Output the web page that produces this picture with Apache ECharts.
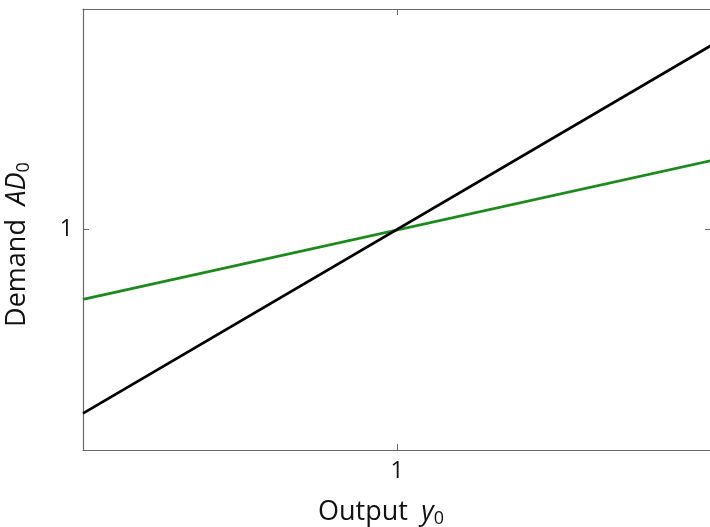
<!DOCTYPE html>
<html>
<head>
<meta charset="utf-8">
<script src="https://cdn.jsdelivr.net/npm/echarts@6/dist/echarts.min.js"></script>
<style>
  html, body { margin: 0; padding: 0; background: #fff; }
  #chart { width: 710px; height: 527px; }
</style>
</head>
<body>
<div id="chart"></div>
<script>
// Output y0 values at which each demand schedule is evaluated
const outputValues = [0, 2];
// Aggregate demand AD0 for the steep (black) and flat (green) schedules
const demandSteep = [0.166, 1.834];
const demandFlat = [0.683, 1.312];
// Tick positions shown on the axes
const xTicks = [1];
const yTicks = [1];

const font = '"Open Sans", "DejaVu Sans", sans-serif';
const axisGray = '#6a6a6a';
const textColor = '#111';

const chart = echarts.init(document.getElementById('chart'), null, { renderer: 'canvas' });

function pairs(xs, ys) {
  return xs.map((x, i) => [x, ys[i]]);
}

function axisFrame(ticks, showLabels) {
  return {
    type: 'value',
    min: 0,
    max: 2,
    interval: 1,
    splitLine: { show: false },
    axisLine: { show: true, onZero: false, lineStyle: { color: axisGray, width: 1.2 } },
    axisTick: {
      show: true, inside: true, length: 6, customValues: ticks,
      lineStyle: { color: axisGray, width: 1 }
    },
    axisLabel: {
      show: showLabels, customValues: ticks, margin: 10,
      fontFamily: font, fontSize: 23, color: textColor
    }
  };
}

const nameRich = {
  t: { fontFamily: font, fontSize: 27, color: textColor },
  i: { fontFamily: font, fontSize: 27, fontStyle: 'italic', color: textColor },
  s: { fontFamily: font, fontSize: 18, color: textColor, padding: [14, 0, 0, 0] }
};

chart.setOption({
  animation: false,
  grid: {
    left: 83, top: 9, width: 628, height: 441,
    containLabel: false, outerBoundsMode: 'none'
  },
  xAxis: [
    Object.assign(axisFrame(xTicks, true), {
      position: 'bottom',
      name: '{t|Output\u2002}{i|y}{s|0}',
      nameLocation: 'middle',
      nameGap: 46,
      nameTextStyle: { rich: nameRich, padding: [0, 32, 0, 0] }
    }),
    Object.assign(axisFrame(xTicks, false), { position: 'top' })
  ],
  yAxis: [
    Object.assign(axisFrame(yTicks, true), {
      position: 'left',
      name: '{t|Demand\u2002}{i|AD}{s|0}',
      nameLocation: 'middle',
      nameGap: 50,
      nameRotate: 90,
      nameTextStyle: { rich: nameRich, padding: [0, 30, 0, 0] }
    }),
    Object.assign(axisFrame(yTicks, false), { position: 'right' })
  ],
  series: [
    {
      type: 'line',
      xAxisIndex: 0,
      yAxisIndex: 0,
      data: pairs(outputValues, demandSteep),
      showSymbol: false,
      lineStyle: { color: '#000', width: 2.8 },
      z: 3
    },
    {
      type: 'line',
      xAxisIndex: 0,
      yAxisIndex: 0,
      data: pairs(outputValues, demandFlat),
      showSymbol: false,
      lineStyle: { color: '#1c8a1c', width: 2.8 },
      z: 2
    }
  ]
});
</script>
</body>
</html>
